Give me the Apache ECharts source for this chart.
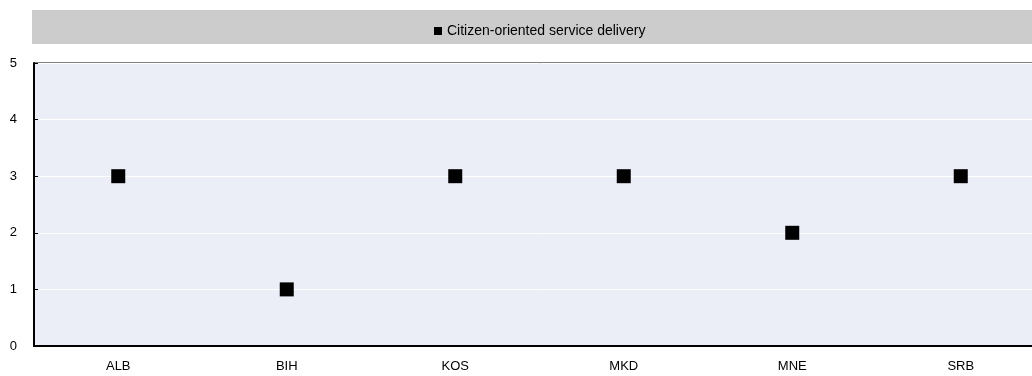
<!DOCTYPE html>
<html>
<head>
<meta charset="utf-8">
<script src="https://cdn.jsdelivr.net/npm/echarts@6/dist/echarts.min.js"></script>
<style>html,body{margin:0;padding:0;background:#fff;overflow:hidden;width:1032px;height:376px}#c{width:1050px;height:376px}</style>
</head>
<body>
<div id="c"></div>
<script>
const categories = ['ALB', 'BIH', 'KOS', 'MKD', 'MNE', 'SRB'];
const seriesName = 'Citizen-oriented service delivery';
const values = [3, 1, 3, 3, 2, 3];
const yTicks = [0, 1, 2, 3, 4, 5];

const chart = echarts.init(document.getElementById('c'), null, {renderer: 'canvas'});
chart.setOption({
  animation: false,
  textStyle: {fontFamily: 'Liberation Sans, Arial, sans-serif'},
  graphic: [{
    type: 'rect', left: 32, top: 10, z: -1,
    shape: {width: 1000, height: 34},
    style: {fill: '#CCCCCC'}
  }],
  legend: {
    top: 19, left: 429,
    itemWidth: 8, itemHeight: 8, itemGap: 10,
    icon: 'rect',
    textStyle: {fontSize: 14, color: '#000', fontFamily: 'Liberation Sans, Arial, sans-serif'},
    data: [seriesName]
  },
  grid: {
    left: 34, width: 1011, top: 63, bottom: 30,
    show: true, backgroundColor: '#EBEEF7', borderColor: '#000', borderWidth: 1
  },
  xAxis: {
    type: 'category', data: categories, boundaryGap: true,
    axisLine: {lineStyle: {color: '#000', width: 2}},
    axisTick: {inside: true, length: 5, lineStyle: {color: '#000'}},
    axisLabel: {color: '#000', fontSize: 13, margin: 14}
  },
  yAxis: {
    type: 'value', min: yTicks[0], max: yTicks[yTicks.length - 1], interval: 1,
    axisLine: {show: true, lineStyle: {color: '#000', width: 2}},
    axisTick: {show: true, inside: true, length: 4, lineStyle: {color: '#000'}},
    axisLabel: {color: '#000', fontSize: 13, margin: 17},
    splitLine: {show: true, lineStyle: {color: '#fff', width: 1}}
  },
  series: [{
    name: seriesName, type: 'scatter', data: values,
    symbol: 'rect', symbolSize: 14,
    itemStyle: {color: '#000', opacity: 1}
  }]
});
</script>
</body>
</html>
